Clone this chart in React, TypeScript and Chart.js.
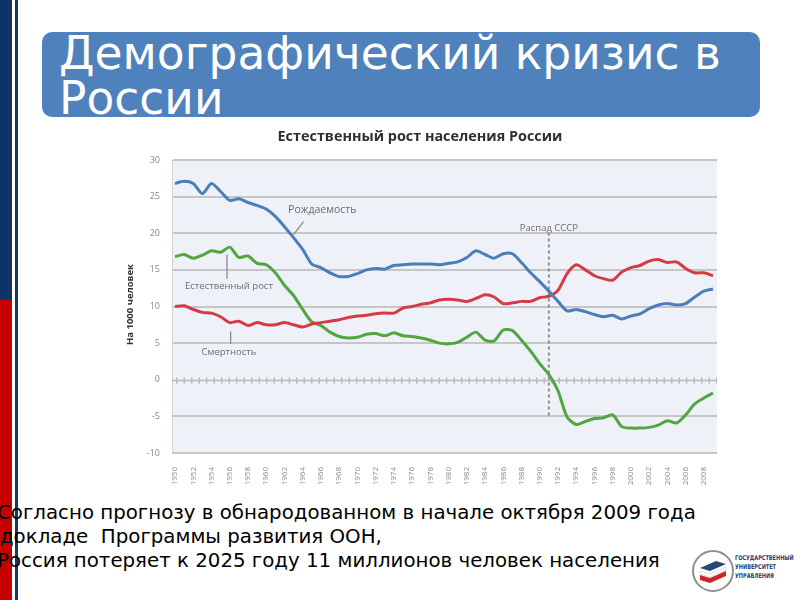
import React, { useEffect, useRef } from "react";
import { Chart, registerables } from "chart.js";

Chart.register(...registerables);

const years = [
  1950, 1951, 1952, 1953, 1954, 1955, 1956, 1957, 1958, 1959,
  1960, 1961, 1962, 1963, 1964, 1965, 1966, 1967, 1968, 1969,
  1970, 1971, 1972, 1973, 1974, 1975, 1976, 1977, 1978, 1979,
  1980, 1981, 1982, 1983, 1984, 1985, 1986, 1987, 1988, 1989,
  1990, 1991, 1992, 1993, 1994, 1995, 1996, 1997, 1998, 1999,
  2000, 2001, 2002, 2003, 2004, 2005, 2006, 2007, 2008, 2009,
];

const birthRate = [
  26.8, 27.1, 26.8, 25.4, 26.8, 25.7, 24.5, 24.7, 24.2, 23.8,
  23.3, 22.3, 20.9, 19.4, 17.8, 15.8, 15.3, 14.6, 14.1, 14.1,
  14.5, 15.0, 15.2, 15.1, 15.6, 15.7, 15.8, 15.8, 15.8, 15.7,
  15.9, 16.1, 16.7, 17.6, 17.1, 16.6, 17.2, 17.2, 16.0, 14.6,
  13.4, 12.1, 10.7, 9.4, 9.6, 9.3, 8.9, 8.6, 8.8, 8.3,
  8.7, 9.0, 9.7, 10.2, 10.4, 10.2, 10.4, 11.3, 12.1, 12.4,
];

const deathRate = [
  10.0, 10.1, 9.6, 9.2, 9.1, 8.6, 7.8, 8.0, 7.4, 7.8,
  7.5, 7.5, 7.8, 7.5, 7.2, 7.6, 7.8, 8.0, 8.2, 8.5,
  8.7, 8.8, 9.0, 9.1, 9.1, 9.8, 10.0, 10.3, 10.5, 10.9,
  11.0, 10.9, 10.7, 11.1, 11.6, 11.3, 10.4, 10.5, 10.7, 10.7,
  11.2, 11.4, 12.2, 14.5, 15.7, 15.0, 14.2, 13.8, 13.6, 14.7,
  15.3, 15.6, 16.2, 16.4, 16.0, 16.1, 15.2, 14.6, 14.6, 14.2,
];

const naturalGrowth = [
  16.8, 17.1, 16.6, 17.0, 17.6, 17.4, 18.1, 16.7, 16.9, 15.9,
  15.7, 14.6, 12.9, 11.5, 9.6, 7.9, 7.4, 6.5, 5.9, 5.7,
  5.8, 6.2, 6.3, 6.0, 6.4, 6.0, 5.9, 5.7, 5.4, 5.0,
  4.9, 5.1, 5.8, 6.5, 5.4, 5.3, 6.8, 6.7, 5.4, 3.9,
  2.2, 0.7, -1.5, -5.1, -6.1, -5.7, -5.3, -5.2, -4.8, -6.4,
  -6.6, -6.6, -6.5, -6.2, -5.6, -5.9, -4.8, -3.3, -2.5, -1.8,
];

const chartTitle = "Естественный рост населения России";
const yAxisTitle = "На 1000 человек";
const collapseYear = 1991;
const collapseLabel = "Распад СССР";

const slideTitle = ["Демографический кризис в", "России"];
const bottomText = [
  "Согласно прогнозу в обнародованном в начале октября 2009 года",
  "в докладе  Программы развития ООН,",
  "Россия потеряет к 2025 году 11 миллионов человек населения",
];
const logoText = ["ГОСУДАРСТВЕННЫЙ", "УНИВЕРСИТЕТ", "УПРАВЛЕНИЯ"];

// annotation labels placed in data coordinates (year, value)
const annotations = [
  { text: "Рождаемость", x: 1962.4, y: 23.2, size: 10.5, align: "left", line: [1964.1, 21.6, 1963.0, 19.8] },
  { text: "Естественный рост", x: 1951.1, y: 12.7, size: 9.5, align: "left", line: [1955.7, 17.1, 1955.7, 13.8] },
  { text: "Смертность", x: 1952.9, y: 3.8, size: 9.5, align: "left", line: [1956.1, 6.6, 1956.1, 4.9] },
];

const decorPlugin = {
  id: "decor",
  beforeDraw(chart: any) {
    const { ctx, chartArea: a } = chart;
    ctx.save();
    ctx.fillStyle = "#eef1f7";
    ctx.fillRect(a.left, a.top, a.right - a.left, a.bottom - a.top);
    ctx.restore();
  },
  beforeDatasetsDraw(chart: any) {
    const { ctx, chartArea: a, scales } = chart;
    const xs = scales.x;
    const ys = scales.y;
    ctx.save();
    // zero line with tick marks
    const y0 = Math.round(ys.getPixelForValue(0)) + 0.5;
    ctx.strokeStyle = "#b9b9b9";
    ctx.lineWidth = 1.5;
    ctx.beginPath();
    ctx.moveTo(a.left, y0);
    ctx.lineTo(a.right, y0);
    ctx.stroke();
    ctx.setLineDash([1.5, 6]);
    ctx.lineWidth = 6;
    ctx.beginPath();
    ctx.moveTo(a.left + 4, y0);
    ctx.lineTo(a.right, y0);
    ctx.stroke();
    // collapse dashed line
    const xc = xs.getPixelForValue(collapseYear);
    ctx.setLineDash([3, 3]);
    ctx.lineWidth = 2;
    ctx.strokeStyle = "#8c8c8c";
    ctx.beginPath();
    ctx.moveTo(xc, ys.getPixelForValue(20.1));
    ctx.lineTo(xc, ys.getPixelForValue(-5.2));
    ctx.stroke();
    ctx.setLineDash([]);
    // leader lines
    ctx.strokeStyle = "#8a8a8a";
    ctx.lineWidth = 1.3;
    annotations.forEach((an) => {
      if (!an.line) return;
      ctx.beginPath();
      ctx.moveTo(xs.getPixelForValue(an.line[0]), ys.getPixelForValue(an.line[1]));
      ctx.lineTo(xs.getPixelForValue(an.line[2]), ys.getPixelForValue(an.line[3]));
      ctx.stroke();
    });
    ctx.restore();
  },
  afterDraw(chart: any) {
    const { ctx, chartArea: a, scales } = chart;
    const xs = scales.x;
    const ys = scales.y;
    ctx.save();
    // chart title
    ctx.fillStyle = "#303030";
    ctx.font = "bold 14.4px 'Open Sans'";
    ctx.textAlign = "center";
    ctx.textBaseline = "middle";
    ctx.fillText(chartTitle, 310, 12);
    // y axis title
    ctx.save();
    ctx.translate(20, (a.top + a.bottom) / 2 - 2);
    ctx.rotate(-Math.PI / 2);
    ctx.font = "bold 9.5px 'Open Sans'";
    ctx.fillStyle = "#333333";
    ctx.fillText(yAxisTitle, 0, 0);
    ctx.restore();
    // annotation labels
    ctx.fillStyle = "#6e6e6e";
    annotations.forEach((an) => {
      ctx.font = an.size + "px 'Open Sans'";
      ctx.textAlign = an.align as CanvasTextAlign;
      ctx.fillText(an.text, xs.getPixelForValue(an.x), ys.getPixelForValue(an.y));
    });
    ctx.font = "9.5px 'Open Sans'";
    ctx.textAlign = "center";
    ctx.fillText(collapseLabel, xs.getPixelForValue(collapseYear), ys.getPixelForValue(20.7));
    ctx.restore();
  },
};

function DemographyChart() {
  const ref = useRef<HTMLCanvasElement>(null);
  useEffect(() => {
    if (!ref.current) return;
    const toPts = (vals: number[]) => years.map((yr, i) => ({ x: yr, y: vals[i] }));
    const chart = new Chart(ref.current, {
      type: "line",
      data: {
        datasets: [
          { label: "Рождаемость", data: toPts(birthRate), borderColor: "#4a7ebb", borderWidth: 3, pointRadius: 0, tension: 0.25 },
          { label: "Смертность", data: toPts(deathRate), borderColor: "#d63b45", borderWidth: 3, pointRadius: 0, tension: 0.25 },
          { label: "Естественный рост", data: toPts(naturalGrowth), borderColor: "#52a640", borderWidth: 3, pointRadius: 0, tension: 0.25 },
        ],
      },
      options: {
        animation: false,
        responsive: false,
        layout: { padding: { left: 0, right: 8, top: 35, bottom: 0 } },
        plugins: { legend: { display: false }, tooltip: { enabled: false } },
        scales: {
          x: {
            type: "linear",
            min: 1949.67,
            max: 2009.44,
            afterFit: (s: any) => { s.height = 42; },
            grid: { display: false },
            border: { display: false },
            ticks: {
              stepSize: 2,
              includeBounds: false,
              autoSkip: false,
              maxRotation: 90,
              minRotation: 90,
              padding: 6,
              color: "#8a8a8a",
              font: { size: 8, family: "'Open Sans'" },
              callback: (v: any) => String(v),
            },
          },
          y: {
            min: -10,
            max: 30,
            afterFit: (s: any) => { s.width = 62; },
            grid: {
              drawTicks: false,
              lineWidth: 2,
              color: (c: any) => (c.tick && c.tick.value === 0 ? "rgba(0,0,0,0)" : "#c6c6c6"),
            },
            border: { display: true, color: "#d3d3d3", width: 1 },
            ticks: {
              stepSize: 5,
              padding: 12,
              color: "#8a8a8a",
              font: { size: 9, family: "'Open Sans'" },
            },
          },
        },
      },
      plugins: [decorPlugin],
    } as any);
    return () => chart.destroy();
  }, []);
  return (
    <canvas
      ref={ref}
      width={615}
      height={370}
      style={{ position: "absolute", left: 110, top: 125, width: 615, height: 370 }}
    />
  );
}

function Logo() {
  return (
    <div style={{ position: "absolute", left: 690, top: 548, width: 110, height: 46 }}>
      <svg width="46" height="46" style={{ position: "absolute", left: 0, top: 0 }}>
        <circle cx="23" cy="23" r="20" fill="#ffffff" stroke="#8f8f8f" strokeWidth="2" />
        <polygon points="10,20 26,13 36,16 20,23" fill="#27467a" />
        <polygon points="10,23 20,26 36,19 36,22 20,29 10,26" fill="#ffffff" stroke="#bbbbbb" strokeWidth="0.5" />
        <polygon points="10,27 20,30 36,23 36,28 20,35 10,32" fill="#d0242b" />
      </svg>
      <div
        style={{
          position: "absolute",
          left: 45,
          top: 6,
          fontFamily: "'DejaVu Sans Condensed', 'DejaVu Sans'",
          fontWeight: "bold",
          fontSize: 6.5,
          lineHeight: "9px",
          color: "#1f3f73",
          whiteSpace: "nowrap",
          transform: "scaleX(0.85)",
          transformOrigin: "left top",
        }}
      >
        {logoText.map((t, i) => (
          <div key={i}>{t}</div>
        ))}
      </div>
    </div>
  );
}

export default function App() {
  return (
    <div
      style={{
        position: "absolute",
        left: 0,
        top: 0,
        width: 800,
        height: 600,
        background: "#ffffff",
        overflow: "hidden",
        fontFamily: "'DejaVu Sans'",
      }}
    >
      <div style={{ position: "absolute", left: 0, top: 0, width: 12, height: 300, background: "#0e3466" }} />
      <div style={{ position: "absolute", left: 0, top: 300, width: 12, height: 300, background: "#c80000" }} />
      <div style={{ position: "absolute", left: 15, top: 0, width: 3, height: 600, background: "#17375e" }} />
      <div
        style={{
          position: "absolute",
          left: 42,
          top: 32,
          width: 718,
          height: 85,
          background: "#4f81bd",
          borderRadius: 10,
        }}
      />
      <div
        style={{
          position: "absolute",
          left: 59,
          top: 31,
          color: "#ffffff",
          fontFamily: "'DejaVu Sans'",
          fontSize: 45.5,
          lineHeight: "45px",
          whiteSpace: "nowrap",
        }}
      >
        {slideTitle.map((t, i) => (
          <div key={i}>{t}</div>
        ))}
      </div>
      <DemographyChart />
      <div
        style={{
          position: "absolute",
          left: 0,
          top: 501,
          color: "#000000",
          fontFamily: "'DejaVu Sans'",
          fontSize: 19.8,
          lineHeight: "24px",
          whiteSpace: "pre",
        }}
      >
        <div style={{ marginLeft: -3 }}>{bottomText[0]}</div>
        <div style={{ marginLeft: -18 }}>{bottomText[1]}</div>
        <div style={{ marginLeft: -3 }}>{bottomText[2]}</div>
      </div>
      <Logo />
    </div>
  );
}
